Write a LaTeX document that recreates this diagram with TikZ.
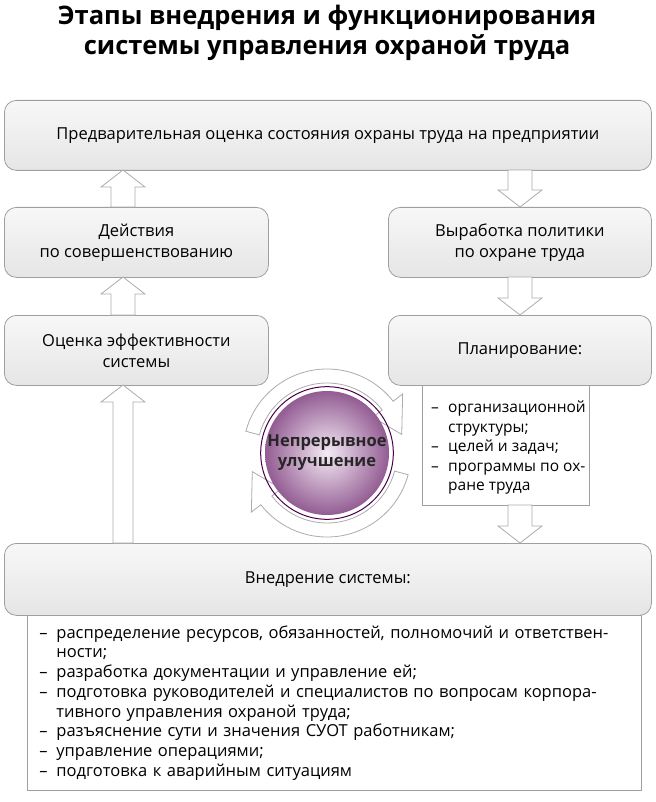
\documentclass[tikz,border=0pt]{standalone}
\usepackage{fontspec}
\setmainfont{Open Sans}
\usetikzlibrary{calc}
\begin{document}
\begin{tikzpicture}[x=1pt,y=-1pt,
  box/.style={draw=gray!75,rounded corners=12pt,top color=gray!6,bottom color=gray!20,line width=0.8pt,font=\fontsize{16.5}{21}\selectfont,align=center,inner sep=0pt},
  lst/.style={draw=gray!75,fill=white,line width=0.8pt,anchor=north west,font=\fontsize{16.5}{19.7}\selectfont,align=left,inner sep=0pt},
  harr/.style={draw=gray!65,fill=white,line width=0.8pt}]
\useasboundingbox (0,0) rectangle (655,802);
\newcommand\hup[3]{\draw[harr] (#1-12,#3)--(#1-12,#2+17)--(#1-22,#2+17)--(#1,#2)--(#1+22,#2+17)--(#1+12,#2+17)--(#1+12,#3)--cycle;}
\newcommand\hdown[3]{\draw[harr] (#1-12,#2)--(#1-12,#3-17)--(#1-22,#3-17)--(#1,#3)--(#1+22,#3-17)--(#1+12,#3-17)--(#1+12,#2)--cycle;}
\node[font=\fontsize{25.5}{30}\selectfont\bfseries,align=center,anchor=north] (title) at (327,2) {Этапы внедрения и функционирования\\системы управления охраной труда};
\node[box,minimum width=647pt,minimum height=70pt,anchor=north west] (pre) at (4,100) {Предварительная оценка состояния охраны труда на предприятии};
\node[box,minimum width=264pt,minimum height=70pt,anchor=north west] (act) at (4,207) {Действия\\по совершенствованию};
\node[box,minimum width=263pt,minimum height=70pt,anchor=north west] (pol) at (388,207) {Выработка политики\\по охране труда};
\node[box,minimum width=264pt,minimum height=70pt,anchor=north west] (eff) at (4,315) {Оценка эффективности\\системы};
\node[box,minimum width=263pt,minimum height=70pt,anchor=north west] (plan) at (388,315) {Планирование:};
\draw[draw=gray!75,fill=white,line width=0.8pt] (422,385) rectangle (589,505);
\node[anchor=north west,font=\fontsize{15.5}{19.5}\selectfont,align=left,inner sep=0pt] (plist) at (431,401) {%
\makebox[17pt][l]{–}организационной\\\hspace*{17pt}структуры;\\\makebox[17pt][l]{–}целей и задач;\\\makebox[17pt][l]{–}программы по ох-\\\hspace*{17pt}ране труда};
\node[lst,minimum width=602pt,minimum height=175pt,text width=590pt,inner xsep=12pt] (ilist) at (27,615) {%
\makebox[17pt][l]{–}распределение ресурсов, обязанностей, полномочий и ответствен-\\\hspace*{17pt}ности;\\
\makebox[17pt][l]{–}разработка документации и управление ей;\\
\makebox[17pt][l]{–}подготовка руководителей и специалистов по вопросам корпора-\\\hspace*{17pt}тивного управления охраной труда;\\
\makebox[17pt][l]{–}разъяснение сути и значения СУОТ работникам;\\
\makebox[17pt][l]{–}управление операциями;\\
\makebox[17pt][l]{–}подготовка к аварийным ситуациям};
\node[box,minimum width=647pt,minimum height=72pt,anchor=north west] (impl) at (4,543) {Внедрение системы:};
\hup{123}{170}{207}
\hdown{520}{170}{207}
\hup{123}{277}{315}
\hdown{520}{277}{315}
\hdown{520}{505}{543}
\draw[harr] (113,543)--(113,402)--(101,402)--(123,385)--(145,402)--(133,402)--(133,543)--cycle;
% cycle arrows
\coordinate (C) at (327,453);
\draw[harr] ($(C)+(-165:84)$) arc[start angle=-165,end angle=-38,radius=84] -- ($(C)+(-38:96)$) -- ($(C)+(-14:77)$) -- ($(C)+(-38:58)$) -- ($(C)+(-38:70)$) arc[start angle=-38,end angle=-165,radius=70] -- cycle;
\draw[harr] ($(C)+(15:84)$) arc[start angle=15,end angle=142,radius=84] -- ($(C)+(142:96)$) -- ($(C)+(166:77)$) -- ($(C)+(142:58)$) -- ($(C)+(142:70)$) arc[start angle=142,end angle=15,radius=70] -- cycle;
\shade[inner color=violet!8,outer color=violet!50!gray!85] (C) circle (62);
\node[circle,draw=violet!60!black,line width=1pt,minimum size=124pt,font=\fontsize{16.5}{20}\selectfont\bfseries,align=center,text=black!85] (ci) at (C) {Непрерывное\\улучшение};
\end{tikzpicture}
\end{document}
